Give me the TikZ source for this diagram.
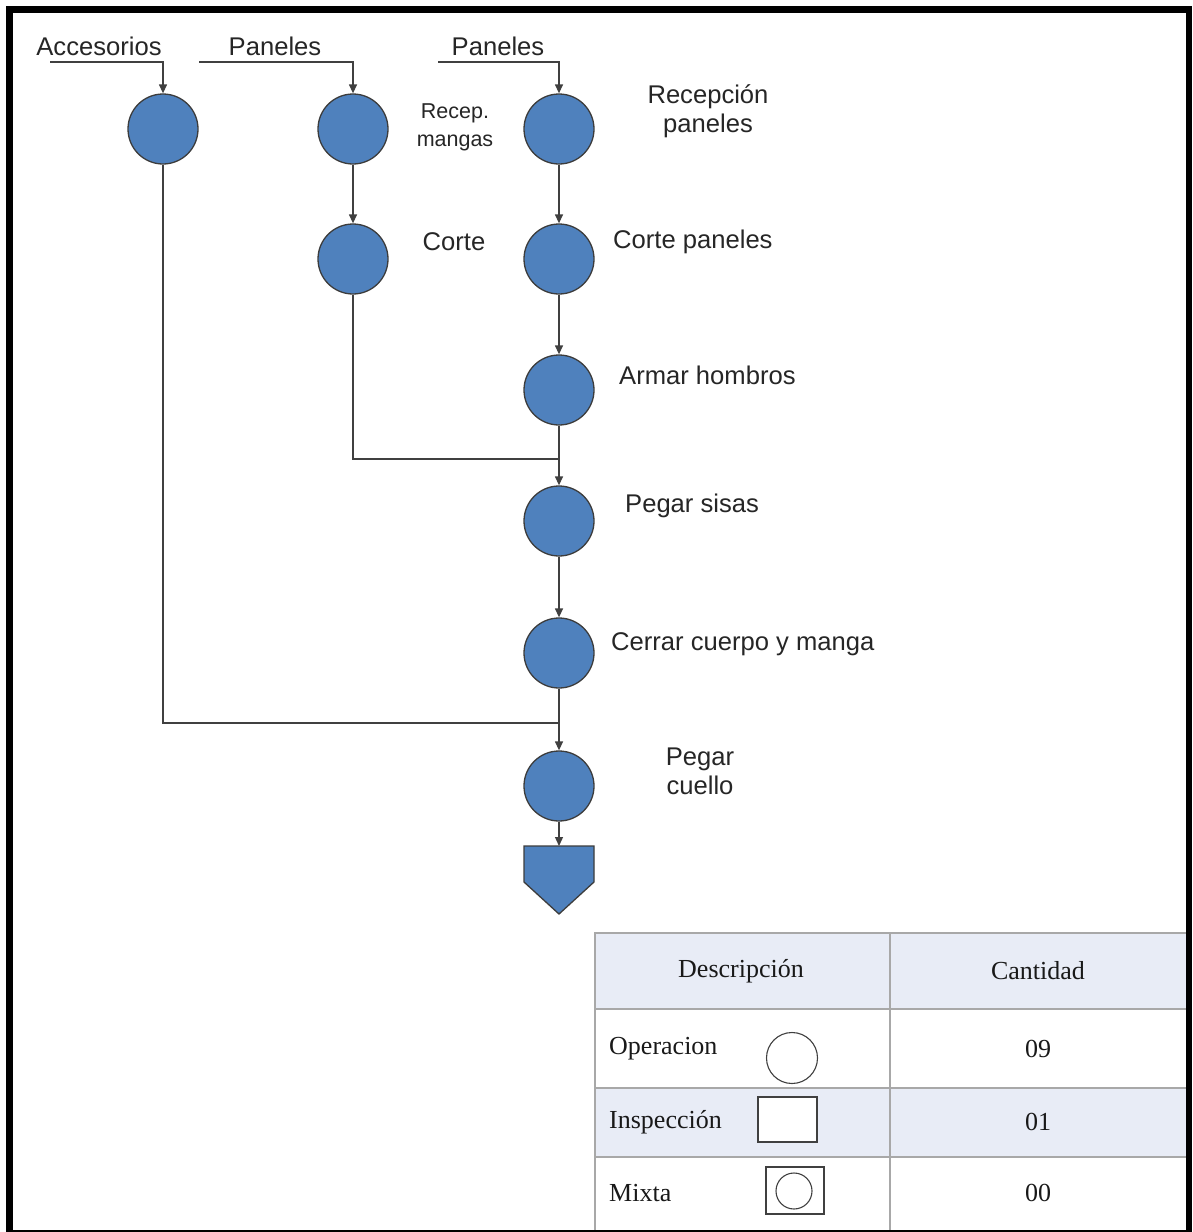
\documentclass[tikz,border=0pt]{standalone}
\usepackage{fontspec}
\setmainfont{Liberation Sans}
\newfontfamily\tabfont{Liberation Serif}
\usetikzlibrary{arrows.meta}
\definecolor{opblue}{HTML}{4F81BD}
\definecolor{opedge}{HTML}{3C3C3C}
\definecolor{flowline}{HTML}{404040}
\definecolor{gridgrey}{HTML}{A8A8A8}
\definecolor{headfill}{HTML}{E8ECF6}
\tikzset{
  opcircle/.style={circle, minimum size=70pt, inner sep=0pt, fill=opblue, draw=opedge, line width=1.3pt},
  flow/.style={draw=flowline, line width=1.3pt},
  flowarrow/.style={flow, -{Triangle[length=9pt,width=8pt]}},
  lbl/.style={font=\fontsize{25.6}{29}\selectfont, text=black!85, inner sep=0pt},
  smalllbl/.style={font=\fontsize{21.5}{28}\selectfont, text=black!85, inner sep=0pt, align=center},
  twolbl/.style={font=\fontsize{25.6}{29}\selectfont, text=black!85, inner sep=0pt, align=center},
  tabtext/.style={font=\tabfont\fontsize{26}{28}\selectfont, text=black!90, inner sep=0pt},
  tabgrid/.style={draw=gridgrey, line width=1.6pt},
  symline/.style={draw=black!75, line width=1.1pt}
}
\begin{document}
\begin{tikzpicture}[x=1pt, y=-1pt]
\useasboundingbox (0,0) rectangle (1192,1232);
\fill[white] (0,0) rectangle (1192,1232);

% --- process flow ---
\node[lbl] (accs) at (99,46) {Accesorios};
\node[lbl] (pan1) at (275,46) {Paneles};
\node[lbl] (pan2) at (498,46) {Paneles};
\coordinate (s1) at (50,62);
\coordinate (s2) at (199,62);
\coordinate (s3) at (438,62);

\node[opcircle] (a1) at (163,129) {};
\node[opcircle] (m1) at (353,129) {};
\node[opcircle] (m2) at (353,259) {};
\node[opcircle] (p1) at (559,129) {};
\node[opcircle] (p2) at (559,259) {};
\node[opcircle] (p3) at (559,390) {};
\node[opcircle] (p4) at (559,521) {};
\node[opcircle] (p5) at (559,653) {};
\node[opcircle] (p6) at (559,786) {};

% storage symbol
\coordinate (almtop) at (559,846);
\filldraw[fill=opblue, draw=opedge, line width=1.3pt]
  (524,846) -- (594,846) -- (594,882) -- (559,914) -- (524,882) -- cycle;

% labels
\node[smalllbl] (lm1) at (455,127) {Recep.\\mangas};
\node[twolbl] (lp1) at (708,111) {Recepción\\paneles};
\node[lbl] (lm2) at (454,242) {Corte};
\node[lbl, anchor=west] (lp2) at (613,242) {Corte paneles};
\node[lbl, anchor=west] (lp3) at (619,375) {Armar hombros};
\node[lbl, anchor=west] (lp4) at (625,506) {Pegar sisas};
\node[lbl, anchor=west] (lp5) at (611,644) {Cerrar cuerpo y manga};
\node[twolbl] (lp6) at (700,771) {Pegar\\cuello};

% connectors
\draw[flowarrow] (s1) -| (a1.north);
\draw[flowarrow] (s2) -| (m1.north);
\draw[flowarrow] (s3) -| (p1.north);
\draw[flowarrow] (m1) -- (m2);
\draw[flowarrow] (p1) -- (p2);
\draw[flowarrow] (p2) -- (p3);
\draw[flowarrow] (p3) -- (p4);
\coordinate (j1) at (559,459);
\draw[flow] (m2.south) |- (j1);
\draw[flowarrow] (p4) -- (p5);
\draw[flowarrow] (p5) -- (p6);
\coordinate (j2) at (559,723);
\draw[flow] (a1.south) |- (j2);
\draw[flowarrow] (p6) -- (almtop);

% --- summary table ---
\fill[headfill] (595,933) rectangle (1186,1009);
\fill[headfill] (595,1088) rectangle (1186,1157);
\draw[tabgrid] (1186,933) -- (595,933) -- (595,1232);
\draw[tabgrid] (890,933) -- (890,1232);
\draw[tabgrid] (595,1009) -- (1186,1009);
\draw[tabgrid] (595,1088) -- (1186,1088);
\draw[tabgrid] (595,1157) -- (1186,1157);

\node[tabtext] (hd) at (741,971) {Descripción};
\node[tabtext] (hc) at (1038,971) {Cantidad};
\node[tabtext, anchor=west] (r1) at (609,1049) {Operacion};
\node[tabtext, anchor=west] (r2) at (609,1122) {Inspección};
\node[tabtext, anchor=west] (r3) at (609,1193) {Mixta};
\node[tabtext] (c1) at (1038,1049) {09};
\node[tabtext] (c2) at (1038,1122) {01};
\node[tabtext] (c3) at (1038,1193) {00};

\draw[symline] (792,1058) circle (25.5);
\filldraw[symline, fill=white] (758,1097) rectangle (817,1142);
\draw[symline] (766,1167) rectangle (824,1214);
\draw[symline] (794,1191) circle (18);

% --- outer frame ---
\fill[black] (6,6) rectangle (1192,13);
\fill[black] (6,6) rectangle (13,1232);
\fill[black] (1186,6) rectangle (1192,1232);
\fill[black] (6,1229.5) rectangle (1192,1232);
\end{tikzpicture}
\end{document}
